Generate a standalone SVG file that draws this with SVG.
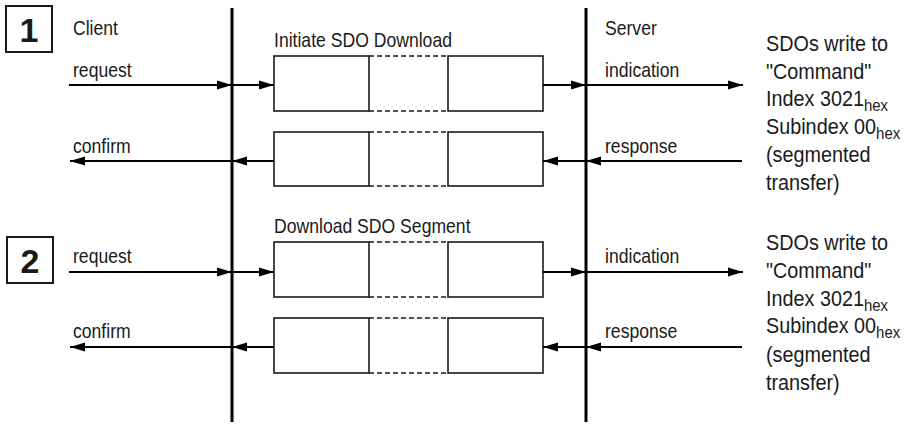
<svg xmlns="http://www.w3.org/2000/svg" width="906" height="424" viewBox="0 0 906 424">
<style>
text{font-family:"Liberation Sans",Arial,sans-serif;fill:#1a1a1a}
.lbl{font-size:20px}
.big{font-size:22.5px}
.sub{font-size:17px}
.num{font-size:34px;font-weight:bold}
.frame{fill:#fff;stroke:#1a1a1a;stroke-width:2}
.box{fill:#fff;stroke:#1a1a1a;stroke-width:1.6}
.dash{fill:none;stroke:#1a1a1a;stroke-width:1.6;stroke-dasharray:5,3}
.life{stroke:#000;stroke-width:3}
.arr{stroke:#000;stroke-width:1.8;fill:none;marker-end:url(#ah)}
</style>
<defs>
<marker id="ah" markerUnits="userSpaceOnUse" markerWidth="16" markerHeight="10" refX="15" refY="5" orient="auto">
<path d="M0,0.5 L15,5 L0,9.5 Z" fill="#000"/>
</marker>
</defs>

<g id="step1">
<rect class="frame" x="6" y="6" width="46" height="46"/>
<text class="num" x="29" y="42" text-anchor="middle">1</text>
</g>
<g id="step2">
<rect class="frame" x="7" y="237" width="46" height="46"/>
<text class="num" x="30" y="273" text-anchor="middle">2</text>
</g>

<g id="client-lifeline">
<line class="life" x1="232" y1="8" x2="232" y2="422"/>
<text class="lbl" transform="translate(73,35) scale(0.88,1)">Client</text>
</g>
<g id="server-lifeline">
<line class="life" x1="586" y1="8" x2="586" y2="422"/>
<text class="lbl" transform="translate(605,35) scale(0.88,1)">Server</text>
</g>

<g id="initiate-request">
<text class="lbl" transform="translate(274,47) scale(0.88,1)">Initiate SDO Download</text>
<rect class="box" x="274" y="56" width="95" height="55"/>
<path class="dash" d="M369,56 H448 M369,111 H448"/>
<rect class="box" x="448" y="56" width="95" height="55"/>
</g>
<g id="initiate-response">
<rect class="box" x="274" y="132" width="95" height="54"/>
<path class="dash" d="M369,132 H448 M369,186 H448"/>
<rect class="box" x="448" y="132" width="95" height="54"/>
</g>
<g id="segment-request">
<text class="lbl" transform="translate(274,233) scale(0.88,1)">Download SDO Segment</text>
<rect class="box" x="274" y="242" width="95" height="55"/>
<path class="dash" d="M369,242 H448 M369,297 H448"/>
<rect class="box" x="448" y="242" width="95" height="55"/>
</g>
<g id="segment-response">
<rect class="box" x="274" y="318" width="95" height="55"/>
<path class="dash" d="M369,318 H448 M369,373 H448"/>
<rect class="box" x="448" y="318" width="95" height="55"/>
</g>

<g id="note1" transform="translate(766,0) scale(0.88,1)">
<text class="big"><tspan x="0" y="51.5">SDOs write to</tspan><tspan x="0" y="79">"Command"</tspan><tspan x="0" y="106.5">Index 3021</tspan><tspan class="sub" dy="5">hex</tspan><tspan x="0" y="134">Subindex 00</tspan><tspan class="sub" dy="5">hex</tspan><tspan x="0" y="162">(segmented</tspan><tspan x="0" y="190">transfer)</tspan></text>
</g>
<g id="note2" transform="translate(766,0) scale(0.88,1)">
<text class="big"><tspan x="0" y="250">SDOs write to</tspan><tspan x="0" y="278">"Command"</tspan><tspan x="0" y="306">Index 3021</tspan><tspan class="sub" dy="5">hex</tspan><tspan x="0" y="333.5">Subindex 00</tspan><tspan class="sub" dy="5">hex</tspan><tspan x="0" y="362">(segmented</tspan><tspan x="0" y="390">transfer)</tspan></text>
</g>

<g id="labels">
<text class="lbl" transform="translate(73,77) scale(0.88,1)">request</text>
<text class="lbl" transform="translate(73,153) scale(0.88,1)">confirm</text>
<text class="lbl" transform="translate(605,77) scale(0.88,1)">indication</text>
<text class="lbl" transform="translate(605,153) scale(0.88,1)">response</text>
<text class="lbl" transform="translate(73,263) scale(0.88,1)">request</text>
<text class="lbl" transform="translate(73,338) scale(0.88,1)">confirm</text>
<text class="lbl" transform="translate(605,263) scale(0.88,1)">indication</text>
<text class="lbl" transform="translate(605,338) scale(0.88,1)">response</text>
</g>

<g id="connectors">
<line class="arr" x1="69" y1="85" x2="232" y2="85"/>
<line class="arr" x1="232" y1="85" x2="274" y2="85"/>
<line class="arr" x1="543" y1="85" x2="586" y2="85"/>
<line class="arr" x1="586" y1="85" x2="743" y2="85"/>
<line class="arr" x1="274" y1="161" x2="232" y2="161"/>
<line class="arr" x1="232" y1="161" x2="70" y2="161"/>
<line class="arr" x1="742" y1="161" x2="586" y2="161"/>
<line class="arr" x1="586" y1="161" x2="543" y2="161"/>
<line class="arr" x1="69" y1="272" x2="232" y2="272"/>
<line class="arr" x1="232" y1="272" x2="274" y2="272"/>
<line class="arr" x1="543" y1="272" x2="586" y2="272"/>
<line class="arr" x1="586" y1="272" x2="743" y2="272"/>
<line class="arr" x1="274" y1="347" x2="232" y2="347"/>
<line class="arr" x1="232" y1="347" x2="70" y2="347"/>
<line class="arr" x1="742" y1="347" x2="586" y2="347"/>
<line class="arr" x1="586" y1="347" x2="543" y2="347"/>
</g>
</svg>
